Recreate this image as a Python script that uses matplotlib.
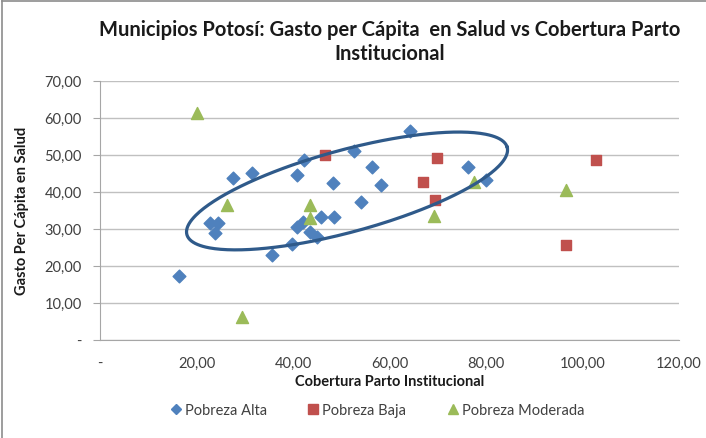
import numpy as np
import matplotlib
matplotlib.use("Agg")
import matplotlib.pyplot as plt
from matplotlib.ticker import FuncFormatter
from matplotlib.lines import Line2D

# Pobreza Alta
alta_x = [16.4, 22.8, 24.5, 23.8, 27.6, 31.6, 35.6, 39.7, 40.9, 42.1, 40.9, 42.3,
          43.5, 44.9, 45.7, 48.5, 48.2, 52.7, 54.0, 56.3, 58.2, 64.2, 76.2, 80.0]
alta_y = [17.1, 31.5, 31.5, 28.8, 43.7, 45.1, 22.9, 26.0, 30.4, 31.9, 44.4, 48.6,
          29.0, 27.8, 33.2, 33.1, 42.3, 50.9, 37.3, 46.6, 41.7, 56.5, 46.8, 43.2]
# Pobreza Baja
baja_x = [46.6, 69.9, 67.0, 69.4, 96.6, 102.9]
baja_y = [50.0, 49.2, 42.7, 37.8, 25.6, 48.6]
# Pobreza Moderada
mod_x = [20.0, 26.3, 43.5, 43.5, 29.5, 69.3, 77.6, 96.6]
mod_y = [61.3, 36.5, 36.5, 32.9, 6.2, 33.5, 42.5, 40.5]

# hand drawn ellipse (center in data units, axes in pixels)
ell_center = (51.2, 40.2)
ell_a, ell_b, ell_angle = 166.0, 41.0, 15.25

W, H = 706, 439
fig = plt.figure(figsize=(W / 100, H / 100), dpi=100)
ax_l, ax_r, ax_t, ax_b = 100, 679, 81.7, 340.7
ax = fig.add_axes([ax_l / W, 1 - ax_b / H, (ax_r - ax_l) / W, (ax_b - ax_t) / H])

font = "Lato"
ax.set_xlim(0, 120)
ax.set_ylim(0, 70)
ax.set_xticks(np.arange(0, 121, 20))
ax.set_yticks(np.arange(0, 71, 10))
fmt = FuncFormatter(lambda v, p: "-" if v == 0 else f"{v:.2f}".replace(".", ","))
ax.xaxis.set_major_formatter(fmt)
ax.yaxis.set_major_formatter(fmt)
ax.grid(axis="y", color="#c0c0c0", lw=1)
ax.set_axisbelow(True)
for s in ["top", "right"]:
    ax.spines[s].set_visible(False)
for s in ["left", "bottom"]:
    ax.spines[s].set_color("#a6a6a6")
ax.tick_params(axis="y", length=5, color="#a6a6a6", labelsize=10.5, labelcolor="#404040", pad=8)
ax.tick_params(axis="x", length=0, labelsize=10.5, labelcolor="#404040", pad=12)
for lab in ax.get_xticklabels() + ax.get_yticklabels():
    lab.set_fontfamily(font)

ax.scatter(alta_x, alta_y, marker="D", s=42, color="#4F81BD", zorder=3, label="Pobreza Alta")
ax.scatter(baja_x, baja_y, marker="s", s=52, color="#C0504D", zorder=3, label="Pobreza Baja")
ax.scatter(mod_x, mod_y, marker="^", s=75, color="#9BBB59", zorder=3, label="Pobreza Moderada")

# ellipse curve: pixel space -> data space
t = np.linspace(0, 2 * np.pi, 300)
th = np.radians(ell_angle)
px = ell_a * np.cos(t) * np.cos(th) - ell_b * np.sin(t) * np.sin(th)
py = ell_a * np.cos(t) * np.sin(th) + ell_b * np.sin(t) * np.cos(th)
ex = ell_center[0] + px * 120 / (ax_r - ax_l)
ey = ell_center[1] + py * 70 / (ax_b - ax_t)
ax.plot(ex, ey, color="#2F5A8A", lw=2.3, zorder=4, clip_on=False)

fig.text(0.552, 1 - 42 / H, "Municipios Potosí: Gasto per Cápita  en Salud vs Cobertura Parto\nInstitucional",
         ha="center", va="center", fontsize=14.5, fontweight="bold", family=font,
         linespacing=1.25, color="#1a1a1a")
fig.text(0.552, 1 - 382 / H, "Cobertura Parto Institucional", ha="center", va="center",
         fontsize=10.5, fontweight="bold", family=font, color="#1a1a1a")
fig.text(22 / W, 1 - 211 / H, "Gasto Per Cápita en Salud", ha="center", va="center",
         rotation=90, fontsize=10.5, fontweight="bold", family=font, color="#1a1a1a")

handles = [
    Line2D([], [], marker="D", ls="", color="#4F81BD", ms=5.5),
    Line2D([], [], marker="s", ls="", color="#C0504D", ms=7),
    Line2D([], [], marker="^", ls="", color="#9BBB59", ms=7),
]
fig.legend(handles, ["Pobreza Alta", "Pobreza Baja", "Pobreza Moderada"], loc="center",
           bbox_to_anchor=(0.532, 1 - 411 / H), ncol=3, frameon=False, handletextpad=0.0,
           handlelength=1.2, columnspacing=2.6, prop={"family": font, "size": 10.5},
           labelcolor="#404040")

# chart border (left and top visible)
fig.add_artist(Line2D([2 / W, 2 / W], [0, 1 - 2 / H], color="#8c8c8c", lw=1.2))
fig.add_artist(Line2D([2 / W, 1], [1 - 2 / H, 1 - 2 / H], color="#8c8c8c", lw=1.2))

fig.savefig("out.png", dpi=100)
